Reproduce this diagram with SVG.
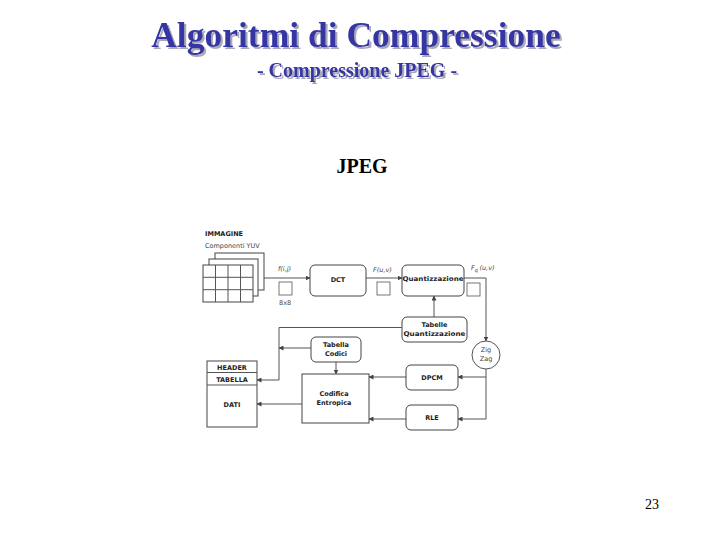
<svg xmlns="http://www.w3.org/2000/svg" width="720" height="540" viewBox="0 0 720 540">
<defs>
<marker id="ah" markerWidth="5" markerHeight="5" refX="4.5" refY="2.5" orient="auto" markerUnits="userSpaceOnUse">
<path d="M0,0 L5,2.5 L0,5 Z" fill="#444"/>
</marker>
<filter id="shd" x="-5%" y="-20%" width="110%" height="140%">
<feDropShadow dx="2" dy="2" stdDeviation="0.6" flood-color="#a8a8b8" flood-opacity="1"/>
</filter>
</defs>
<style>
.title{font-family:"Liberation Serif",serif;font-weight:bold;fill:#3434a4;filter:url(#shd)}
.box{fill:#fff;stroke:#444;stroke-width:1}
.sq{fill:#fff;stroke:#555;stroke-width:0.8}
.conn{fill:none;stroke:#555;stroke-width:1}
.lb{font-family:"DejaVu Sans",sans-serif;font-weight:bold;font-size:6.5px;fill:#222;text-anchor:middle}
.sm{font-family:"DejaVu Sans",sans-serif;font-size:6.5px;fill:#444}
.it{font-family:"DejaVu Sans",sans-serif;font-style:italic;font-size:6.5px;fill:#444}
</style>
<rect width="720" height="540" fill="#fff"/>
<g id="title">
<text class="title" x="356" y="47" font-size="35.5" text-anchor="middle">Algoritmi di Compressione</text>
<text class="title" x="357" y="77" font-size="20" text-anchor="middle">- Compressione JPEG -</text>
</g>
<text x="362" y="173" font-family="Liberation Serif,serif" font-weight="bold" font-size="20" text-anchor="middle" fill="#000">JPEG</text>
<text x="652" y="509" font-family="Liberation Serif,serif" font-size="14" text-anchor="middle" fill="#000">23</text>

<g id="connectors">
<line class="conn" x1="264" y1="278" x2="310" y2="278" marker-end="url(#ah)"/>
<line class="conn" x1="366" y1="278" x2="402" y2="278" marker-end="url(#ah)"/>
<polyline class="conn" points="464,278 486,278 486,341" marker-end="url(#ah)"/>
<line class="conn" x1="434" y1="317" x2="434" y2="296" marker-end="url(#ah)"/>
<polyline class="conn" points="402,327.5 279,327.5 279,380 257,380" marker-end="url(#ah)"/>
<line class="conn" x1="311" y1="348" x2="279" y2="348" marker-end="url(#ah)"/>
<line class="conn" x1="336" y1="362" x2="336" y2="374" marker-end="url(#ah)"/>
<line class="conn" x1="302" y1="404" x2="257" y2="404" marker-end="url(#ah)"/>
<line class="conn" x1="406" y1="377" x2="369" y2="377" marker-end="url(#ah)"/>
<line class="conn" x1="406" y1="419" x2="369" y2="419" marker-end="url(#ah)"/>
<polyline class="conn" points="486,369 486,419 458,419" marker-end="url(#ah)"/>
<line class="conn" x1="486" y1="377" x2="458" y2="377" marker-end="url(#ah)"/>
</g>

<g id="immagine">
<text x="205" y="236" font-family="DejaVu Sans,sans-serif" font-weight="bold" font-size="6.5" fill="#222">IMMAGINE</text>
<text class="sm" x="205" y="248">Componenti YUV</text>
<rect class="box" x="215" y="253" width="49" height="37"/>
<rect class="box" x="209" y="259" width="49" height="37"/>
<rect class="box" x="203" y="265" width="50" height="37"/>
<path class="conn" d="M215.5,265 V302 M228,265 V302 M240.5,265 V302 M203,277.3 H253 M203,289.7 H253" stroke="#444"/>
</g>
<g id="fij">
<text class="it" x="278" y="271">f(i,j)</text>
<rect class="sq" x="279" y="282" width="13" height="13"/>
<text class="sm" x="279" y="305">8x8</text>
</g>
<g id="dct">
<rect class="box" x="310" y="265" width="56" height="31" rx="5"/>
<text class="lb" x="338" y="282">DCT</text>
</g>
<g id="fuv">
<text class="it" x="373" y="272">F(u,v)</text>
<rect class="sq" x="377" y="282" width="13" height="13"/>
</g>
<g id="quant">
<rect class="box" x="402" y="265" width="62" height="31" rx="5"/>
<text class="lb" x="433" y="281" textLength="61" lengthAdjust="spacingAndGlyphs">Quantizzazione</text>
</g>
<g id="fquv">
<text class="it" x="471" y="270">F<tspan font-size="5" dy="2">q</tspan><tspan dy="-2" dx="1.5">(u,v)</tspan></text>
<rect class="sq" x="467" y="283" width="13" height="13"/>
</g>
<g id="tabquant">
<rect class="box" x="402" y="317" width="65" height="25" rx="5"/>
<text class="lb" x="434.5" y="327">Tabelle</text>
<text class="lb" x="434.5" y="336" textLength="62" lengthAdjust="spacingAndGlyphs">Quantizzazione</text>
</g>
<g id="zigzag">
<circle cx="486" cy="355" r="14" fill="#fff" stroke="#555"/>
<text class="sm" x="486" y="352" text-anchor="middle">Zig</text>
<text class="sm" x="486" y="361" text-anchor="middle">Zag</text>
</g>
<g id="tabcodici">
<rect class="box" x="311" y="337" width="50" height="25" rx="5"/>
<text class="lb" x="336" y="347">Tabella</text>
<text class="lb" x="336" y="356">Codici</text>
</g>
<g id="codifica">
<rect class="box" x="302" y="374" width="67" height="49"/>
<text class="lb" x="334" y="396">Codifica</text>
<text class="lb" x="334" y="405">Entropica</text>
</g>
<g id="dpcm">
<rect class="box" x="406" y="365" width="52" height="25" rx="5"/>
<text class="lb" x="432" y="380">DPCM</text>
</g>
<g id="rle">
<rect class="box" x="406" y="405" width="52" height="25" rx="5"/>
<text class="lb" x="432" y="420">RLE</text>
</g>
<g id="file">
<rect class="box" x="207" y="361" width="50" height="66"/>
<line class="conn" x1="207" y1="372.5" x2="257" y2="372.5" stroke="#444"/>
<line class="conn" x1="207" y1="385" x2="257" y2="385" stroke="#444"/>
<text class="lb" x="232" y="370">HEADER</text>
<text class="lb" x="232" y="382">TABELLA</text>
<text class="lb" x="232" y="407">DATI</text>
</g>
</svg>
